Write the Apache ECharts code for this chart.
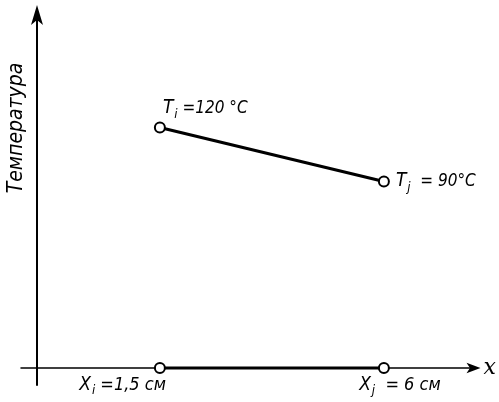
<!DOCTYPE html>
<html>
<head>
<meta charset="utf-8">
<script src="https://cdn.jsdelivr.net/npm/echarts@6/dist/echarts.min.js"></script>
<style>
html,body{margin:0;padding:0;background:#fff;}
#chart{width:499px;height:402px;}
</style>
</head>
<body>
<div id="chart"></div>
<script>
// ---- data ----
const xPositions = [1.5, 6];          // X_i, X_j (cm)
const temperatures = [120, 90];       // T_i, T_j (°C)
const baselineValues = [0, 0];        // points projected onto the x axis
const tempLabels = ['{t|T}{s|i}{n| =120 °C}', '{t|T}{s|j}{n|  = 90°C}'];
const xLabels = ['{t|X}{s|i}{m| =1,5 см}', '{t|X}{s|j}{m|  = 6 см}'];
const yAxisTitle = 'Температура';
const xAxisTitle = 'x';

const FONT = "'DejaVu Sans Condensed','Liberation Sans Narrow','DejaVu Sans',sans-serif";
const rich = {
  t: {fontFamily: FONT, fontStyle: 'italic', fontSize: 19, color: '#000'},
  s: {fontFamily: FONT, fontStyle: 'italic', fontSize: 13, color: '#000', padding: [12, 0, 0, 1]},
  n: {fontFamily: FONT, fontStyle: 'italic', fontSize: 17, color: '#000'},
  m: {fontFamily: FONT, fontStyle: 'italic', fontSize: 18, color: '#000'}
};

const tempLabelStyles = [
  {position: [9, -13], align: 'left', verticalAlign: 'middle'},
  {position: 'right', distance: 6, align: 'left', verticalAlign: 'middle'}
];
const xLabelStyles = [
  {position: [12, 23], align: 'right', verticalAlign: 'middle'},
  {position: [22, 23], align: 'center', verticalAlign: 'middle'}
];

const tempData = xPositions.map((x, i) => ({
  value: [x, temperatures[i]],
  label: Object.assign({show: true, formatter: tempLabels[i], rich: rich}, tempLabelStyles[i])
}));
const baseData = xPositions.map((x, i) => ({
  value: [x, baselineValues[i]],
  label: Object.assign({show: true, formatter: xLabels[i], rich: rich}, xLabelStyles[i])
}));

const chart = echarts.init(document.getElementById('chart'), null, {renderer: 'canvas'});
chart.setOption({
  animation: false,
  backgroundColor: '#fff',
  grid: {left: 21, right: 25.5, top: 15, bottom: 17, outerBoundsMode: 'none', containLabel: false},
  xAxis: {
    type: 'value', min: -1.29, max: 7.8,
    axisLine: {show: true, onZero: true, onZeroAxisIndex: 1,
      symbol: ['none', 'arrow'], symbolSize: [8, 14], symbolOffset: [0, 7],
      lineStyle: {color: '#000', width: 1.5}},
    axisTick: {show: false}, axisLabel: {show: false}, splitLine: {show: false},
    name: xAxisTitle, nameLocation: 'end', nameGap: 10,
    nameTextStyle: {fontFamily: "'DejaVu Serif',serif", fontStyle: 'italic', fontSize: 22, color: '#000', verticalAlign: 'middle'}
  },
  yAxis: [{
    type: 'value', min: -23, max: 182.5, offset: -16,
    axisLine: {show: true, onZero: false,
      symbol: ['none', 'arrow'], symbolSize: [9, 20], symbolOffset: [0, 10],
      lineStyle: {color: '#000', width: 2}},
    axisTick: {show: false}, axisLabel: {show: false}, splitLine: {show: false}
  }, {
    type: 'value', min: -17, max: 353, show: false,
    axisLine: {onZero: false}, splitLine: {show: false}
  }],
  graphic: [{
    type: 'text', x: 17, y: 128, rotation: Math.PI / 2,
    style: {text: yAxisTitle, fontFamily: FONT, fontStyle: 'italic', fontSize: 21, fill: '#000',
      align: 'center', verticalAlign: 'middle'}
  }],
  series: [{
    type: 'line', yAxisIndex: 0, data: tempData,
    symbol: 'emptyCircle', symbolSize: 10,
    lineStyle: {color: '#000', width: 3},
    itemStyle: {color: '#000', borderWidth: 2}
  }, {
    type: 'line', yAxisIndex: 1, data: baseData,
    symbol: 'emptyCircle', symbolSize: 10,
    lineStyle: {color: '#000', width: 3},
    itemStyle: {color: '#000', borderWidth: 2}
  }]
});
</script>
</body>
</html>
